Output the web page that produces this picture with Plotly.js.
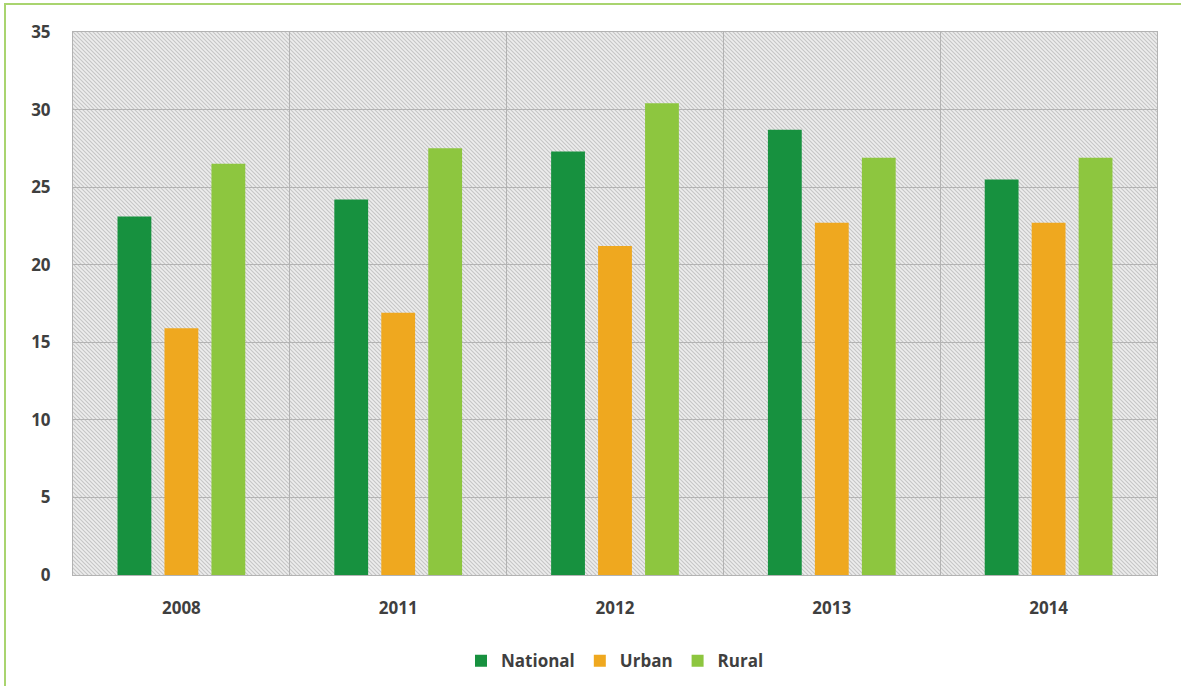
<!DOCTYPE html>
<html>
<head>
<meta charset="utf-8">
<script src="https://cdn.plot.ly/plotly-3.0.1.min.js"></script>
<style>
  html, body { margin: 0; padding: 0; background: #ffffff; }
  #frame { position: absolute; left: 4px; top: 3px; width: 1200px; height: 700px;
           border-left: 2px solid #a9d46f; border-top: 2px solid #a9d46f; pointer-events: none; }
  #chart { position: absolute; left: 0; top: 0; width: 1181px; height: 686px; }
</style>
</head>
<body>
<div id="chart"></div>
<div id="frame"></div>
<script>
// ---- data ----
const years = ["2008", "2011", "2012", "2013", "2014"];
const national = [23.1, 24.2, 27.3, 28.7, 25.5];
const urban = [15.9, 16.9, 21.2, 22.7, 22.7];
const rural = [26.5, 27.5, 30.4, 26.9, 26.9];
const seriesNames = ["National", "Urban", "Rural"];
const yTicks = [0, 5, 10, 15, 20, 25, 30, 35];

// ---- styling ----
const colors = ["#17913f", "#efa81f", "#8dc63f"];
const fontFam = "'Open Sans', 'DejaVu Sans', sans-serif";
const textCol = "#3f3f3f";

// hatched plot background (diagonal stripes) as an SVG image
const W = 1084, H = 543;
const svg = `<svg xmlns="http://www.w3.org/2000/svg" width="${W}" height="${H}" viewBox="0 0 ${W} ${H}" preserveAspectRatio="none">
<defs><pattern id="p" width="4" height="4" patternUnits="userSpaceOnUse">
<rect width="4" height="4" fill="#ededed"/>
<path d="M-1,-1 L5,5 M-1,3 L1,5 M3,-1 L5,1" stroke="#c6c6c6" stroke-width="1.1"/>
</pattern></defs>
<rect width="${W}" height="${H}" fill="url(#p)"/></svg>`;
const bgSrc = "data:image/svg+xml;charset=utf-8," + encodeURIComponent(svg);

const valueSets = [national, urban, rural];
const traces = seriesNames.map((name, i) => ({
  type: "bar",
  name: name,
  x: years,
  y: valueSets[i],
  marker: { color: colors[i], line: { width: 0 } },
  hoverinfo: "x+y+name"
}));

const layout = {
  width: 1181,
  height: 686,
  margin: { l: 73, r: 24, t: 32, b: 111, autoexpand: false },
  paper_bgcolor: "rgba(0,0,0,0)",
  plot_bgcolor: "rgba(0,0,0,0)",
  barmode: "group",
  bargap: 0.35,
  bargroupgap: 0.28,
  showlegend: true,
  legend: {
    orientation: "h",
    x: 0.5, xanchor: "center",
    yref: "container",
    y: 0.036, yanchor: "middle",
    itemwidth: 30,
    font: { family: fontFam, size: 17, color: textCol, weight: "bold" },
    bgcolor: "rgba(0,0,0,0)"
  },
  xaxis: {
    type: "category",
    tickson: "boundaries",
    showgrid: true,
    gridcolor: "#b3b3b3",
    gridwidth: 1,
    showline: true, mirror: true, linecolor: "#b3b3b3", linewidth: 1,
    ticks: "",
    ticklabelstandoff: 18,
    tickfont: { family: fontFam, size: 17, color: textCol, weight: "bold" },
    automargin: false,
    fixedrange: true
  },
  yaxis: {
    range: [0, 35],
    tickvals: yTicks,
    ticktext: yTicks.map(String),
    showgrid: true,
    gridcolor: "#b3b3b3",
    gridwidth: 1,
    zeroline: false,
    showline: true, mirror: true, linecolor: "#b3b3b3", linewidth: 1,
    ticks: "",
    ticklabelstandoff: 18,
    tickfont: { family: fontFam, size: 17, color: textCol, weight: "bold" },
    automargin: false,
    fixedrange: true
  },
  images: [{
    source: bgSrc,
    xref: "paper", yref: "paper",
    x: 0, y: 1, sizex: 1, sizey: 1,
    xanchor: "left", yanchor: "top",
    sizing: "stretch",
    layer: "below"
  }]
};

Plotly.newPlot("chart", traces, layout, { displayModeBar: false, staticPlot: true });
</script>
</body>
</html>
